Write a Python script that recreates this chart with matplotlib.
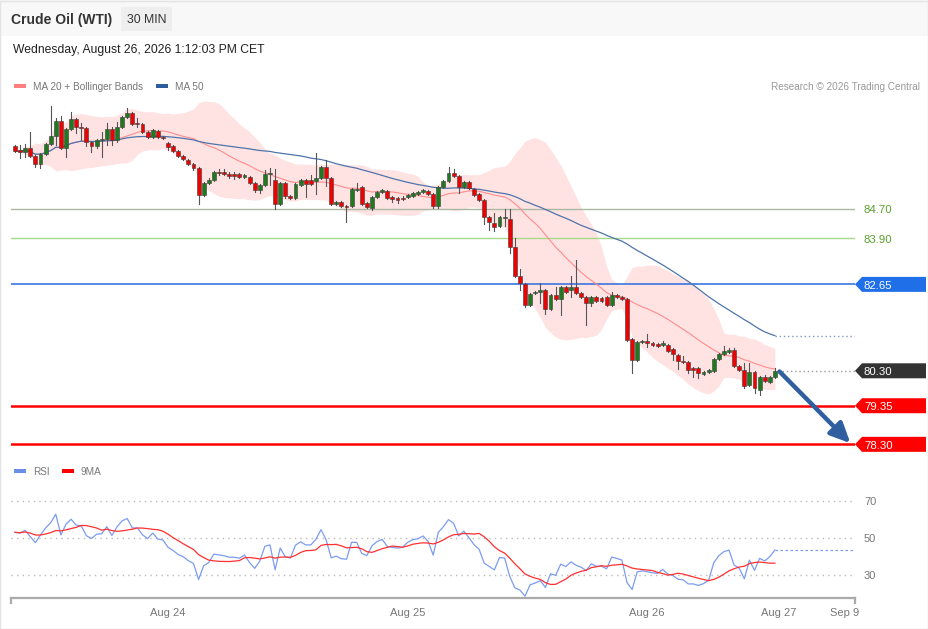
import matplotlib
matplotlib.use("Agg")
import matplotlib.pyplot as plt
import numpy as np
import pandas as pd
from matplotlib.patches import Rectangle, Polygon
from matplotlib import transforms

plt.rcParams['font.family'] = ['Liberation Sans', 'DejaVu Sans']

# ---------------- data: 30 min candles, Crude Oil (WTI) ----------------
opens = [86.41, 86.31, 86.25, 86.36, 86.14, 85.92, 86.20, 86.47, 86.69, 87.09,
         86.36, 86.88, 87.15, 86.93, 86.90, 86.52, 86.41, 86.58, 86.60, 86.88,
         86.58, 86.93, 87.20, 87.31, 87.04, 87.01, 86.79, 86.66, 86.82, 86.66,
         86.50, 86.41, 86.28, 86.14, 86.03, 85.92, 85.82, 85.08, 85.41, 85.49,
         85.71, 85.71, 85.65, 85.65, 85.65, 85.57, 85.57, 85.41, 85.22, 85.35,
         85.65, 85.49, 84.84, 85.41, 85.05, 85.00, 85.35, 85.49, 85.49, 85.46,
         85.54, 85.84, 85.54, 84.84, 84.89, 84.78, 84.78, 85.22, 85.30, 84.86,
         84.73, 85.03, 85.16, 85.19, 85.03, 85.00, 85.00, 85.03, 85.05, 85.11,
         85.16, 85.19, 85.11, 84.78, 85.30, 85.46, 85.68, 85.60, 85.30, 85.43,
         85.24, 85.11, 84.95, 84.48, 84.32, 84.24, 84.46, 84.43, 83.67, 82.88,
         82.66, 82.09, 82.41, 82.44, 82.50, 81.98, 82.36, 82.25, 82.58, 82.50,
         82.58, 82.41, 82.31, 82.14, 82.31, 82.28, 82.31, 82.09, 82.36, 82.31,
         82.25, 81.16, 80.59, 81.08, 81.11, 81.06, 81.03, 81.00, 81.00, 80.89,
         80.73, 80.57, 80.54, 80.38, 80.38, 80.21, 80.27, 80.30, 80.62, 80.76,
         80.81, 80.87, 80.43, 80.32, 79.91, 80.27, 79.78, 80.13, 80.00, 80.13]
highs = [86.44, 86.44, 86.47, 86.79, 86.17, 86.22, 86.50, 87.50, 87.18, 87.23,
         86.90, 87.34, 87.18, 87.04, 86.93, 86.55, 86.60, 86.79, 87.04, 86.93,
         87.07, 87.23, 87.45, 87.34, 87.18, 87.04, 86.82, 86.88, 86.85, 86.69,
         86.52, 86.44, 86.31, 86.17, 86.06, 85.95, 85.84, 85.43, 85.54, 85.73,
         85.79, 85.79, 85.71, 85.71, 85.68, 85.65, 85.60, 85.43, 85.38, 85.76,
         85.82, 85.79, 85.43, 85.43, 85.08, 85.41, 85.52, 85.52, 85.63, 86.22,
         85.87, 86.03, 85.57, 84.92, 84.92, 84.81, 85.27, 85.41, 85.33, 84.89,
         85.05, 85.19, 85.24, 85.22, 85.05, 85.03, 85.05, 85.11, 85.16, 85.19,
         85.24, 85.22, 85.14, 85.33, 85.49, 85.84, 85.79, 85.63, 85.46, 85.46,
         85.27, 85.14, 84.97, 84.51, 84.59, 84.51, 84.70, 84.70, 83.91, 83.07,
         82.69, 82.41, 82.47, 82.69, 82.52, 82.39, 82.58, 82.61, 82.61, 82.88,
         83.31, 82.44, 82.33, 82.33, 82.33, 82.31, 82.33, 82.44, 82.39, 82.33,
         82.28, 81.19, 81.11, 81.14, 81.30, 81.08, 81.06, 81.11, 81.03, 80.92,
         80.76, 80.70, 80.57, 80.40, 80.40, 80.30, 80.35, 80.65, 80.78, 80.97,
         80.92, 80.92, 80.46, 80.51, 80.51, 80.30, 80.16, 80.19, 80.16, 80.38]
lows = [86.25, 86.09, 86.11, 86.11, 85.84, 85.82, 86.17, 86.44, 86.44, 86.33,
        86.11, 86.85, 86.77, 86.58, 86.41, 86.25, 86.36, 86.11, 86.44, 86.44,
        86.52, 86.90, 87.18, 86.99, 86.93, 86.77, 86.63, 86.63, 86.63, 86.60,
        86.31, 86.25, 86.11, 86.03, 85.90, 85.76, 84.84, 85.05, 85.38, 85.46,
        85.63, 85.63, 85.54, 85.52, 85.54, 85.54, 85.38, 85.16, 85.14, 85.33,
        85.35, 84.70, 84.81, 85.00, 84.97, 84.97, 85.33, 85.03, 85.35, 85.11,
        85.52, 85.33, 84.81, 84.81, 84.76, 84.35, 84.76, 85.19, 84.81, 84.73,
        84.67, 85.00, 85.14, 84.97, 84.89, 84.86, 84.95, 85.00, 85.03, 85.08,
        85.14, 85.08, 84.73, 84.73, 85.27, 85.43, 85.57, 85.14, 85.27, 85.24,
        85.05, 84.92, 84.29, 84.13, 84.10, 84.21, 84.24, 83.50, 82.85, 82.50,
        82.04, 82.06, 82.39, 82.14, 81.84, 81.95, 82.23, 81.82, 82.41, 82.31,
        82.39, 82.28, 81.54, 82.06, 82.17, 82.17, 82.06, 82.06, 82.28, 82.23,
        81.11, 80.24, 80.57, 81.06, 80.95, 80.97, 80.95, 80.97, 80.81, 80.59,
        80.35, 80.51, 80.24, 80.13, 80.11, 80.19, 80.24, 80.27, 80.59, 80.73,
        80.78, 80.40, 80.30, 79.83, 79.88, 79.69, 79.64, 80.00, 79.97, 80.11]
closes = [86.28, 86.25, 86.36, 86.14, 85.92, 86.20, 86.47, 86.69, 87.09, 86.36,
          86.88, 87.15, 86.93, 86.90, 86.52, 86.41, 86.58, 86.60, 86.88, 86.58,
          86.93, 87.20, 87.31, 87.01, 87.01, 86.79, 86.66, 86.85, 86.66, 86.63,
          86.39, 86.28, 86.14, 86.06, 85.92, 85.82, 85.08, 85.41, 85.49, 85.71,
          85.68, 85.65, 85.60, 85.60, 85.57, 85.63, 85.41, 85.22, 85.35, 85.65,
          85.68, 84.84, 85.41, 85.05, 85.00, 85.38, 85.49, 85.38, 85.38, 85.54,
          85.84, 85.54, 84.84, 84.89, 84.78, 84.76, 85.24, 85.24, 84.84, 84.76,
          85.03, 85.16, 85.22, 85.00, 84.97, 84.95, 84.97, 85.08, 85.14, 85.16,
          85.22, 85.11, 84.78, 85.30, 85.46, 85.68, 85.60, 85.30, 85.43, 85.27,
          85.08, 84.95, 84.48, 84.35, 84.21, 84.48, 84.46, 83.67, 82.88, 82.69,
          82.09, 82.39, 82.44, 82.50, 81.98, 82.36, 82.25, 82.58, 82.44, 82.58,
          82.41, 82.31, 82.14, 82.31, 82.20, 82.20, 82.09, 82.36, 82.31, 82.25,
          81.14, 80.59, 81.08, 81.11, 81.06, 81.00, 80.97, 81.06, 80.84, 80.76,
          80.57, 80.54, 80.32, 80.32, 80.24, 80.27, 80.32, 80.62, 80.76, 80.84,
          80.87, 80.43, 80.32, 79.88, 80.27, 79.83, 80.13, 80.02, 80.13, 80.30]

# resistance / pivot / support levels
res_levels = [84.70, 83.90]
pivot = 82.65
last_price = 80.30
sup_levels = [79.35, 78.30]

tick_pos = [30, 76.9, 123.9, 149.8, 162.7]
tick_labels = ["Aug 24", "Aug 25", "Aug 26", "Aug 27", "Sep 9"]
rsi_levels = [70, 50, 30]

# ---------------- indicators ----------------
c = pd.Series(closes)
ma20 = c.rolling(20, min_periods=1).mean()
sd20 = c.rolling(20, min_periods=2).std(ddof=0).fillna(0)
ma50 = c.rolling(50, min_periods=1).mean()
up_band = ma20 + 2 * sd20
lo_band = ma20 - 2 * sd20

# Wilder RSI(14), seeded with the average of the first 14 moves
d = c.diff().fillna(0)
g = d.clip(lower=0)
l = -d.clip(upper=0)
g.iloc[0] = g.iloc[1:15].mean()
l.iloc[0] = l.iloc[1:15].mean()
gain = g.ewm(alpha=1 / 14, adjust=False).mean()
loss = l.ewm(alpha=1 / 14, adjust=False).mean()
rsi = 100 - 100 / (1 + gain / loss)
rsi9 = rsi.rolling(9, min_periods=1).mean()

n = len(closes)
x = np.arange(n)

# ---------------- figure ----------------
W, H = 929, 629
fig = plt.figure(figsize=(W / 100, H / 100), dpi=100)
fig.patch.set_facecolor("white")


def px(xp, yp):
    return xp / W, 1 - yp / H


# frame + header band
fig.patches.append(Rectangle((0, 1 - 36 / H), 1, 36 / H, transform=fig.transFigure,
                             facecolor="#f8f8f8", edgecolor="none", zorder=0))
fig.patches.append(Rectangle((0.5 / W, 0.5 / H), 1 - 1 / W, 1 - 1 / H, transform=fig.transFigure,
                             facecolor="none", edgecolor="#e3e3e3", lw=1, zorder=5))
fig.patches.append(Rectangle(px(121, 31), 51 / W, 24 / H, transform=fig.transFigure,
                             facecolor="#eeeeee", edgecolor="none", zorder=1))
fig.text(*px(11, 20), "Crude Oil (WTI)", fontsize=10, fontweight="bold", color="#333333", va="center")
fig.text(*px(146.5, 20), "30 MIN", fontsize=8.8, color="#333333", va="center", ha="center")
fig.text(*px(13, 49.5), "Wednesday, August 26, 2026 1:12:03 PM CET", fontsize=8.7, color="#222222", va="center")

# legends
fig.patches.append(Rectangle(px(14, 88), 12 / W, 4 / H, transform=fig.transFigure, facecolor="#ff7f7f", edgecolor="none"))
fig.text(*px(33, 87), "MA 20 + Bollinger Bands", fontsize=7.2, color="#777777", va="center")
fig.patches.append(Rectangle(px(156, 88), 12 / W, 4 / H, transform=fig.transFigure, facecolor="#2e5d9e", edgecolor="none"))
fig.text(*px(175, 87), "MA 50", fontsize=7.2, color="#777777", va="center")
fig.text(*px(920, 87), "Research \u00a9 2026 Trading Central", fontsize=7.2, color="#999999", va="center", ha="right")

fig.patches.append(Rectangle(px(14, 473), 12 / W, 4 / H, transform=fig.transFigure, facecolor="#6a8fe8", edgecolor="none"))
fig.text(*px(33, 472), "RSI", fontsize=7.2, color="#777777", va="center")
fig.patches.append(Rectangle(px(62, 473), 12 / W, 4 / H, transform=fig.transFigure, facecolor="#ff0000", edgecolor="none"))
fig.text(*px(81, 472), "9MA", fontsize=7.2, color="#777777", va="center")

# ---------------- price panel ----------------
ax = fig.add_axes([11 / W, 1 - 455 / H, 844 / W, 360 / H])
xl = (-0.78, 164.7)
ax.set_xlim(*xl)
ax.set_ylim(78.01, 87.80)
ax.axis("off")

ax.fill_between(x, lo_band, up_band, color="#ffe3e3", lw=0, zorder=1)
ax.plot(x, ma20, color="#ff8c8c", lw=0.8, zorder=2)
ax.plot(x, ma50, color="#4f74ab", lw=0.9, zorder=2)
ax.plot([n - 1, xl[1]], [ma50.iloc[-1]] * 2, color="#7d9cc8", lw=1, ls=(0, (1, 2)), zorder=2)

ax.axhline(res_levels[0], color="#aab8a2", lw=1, zorder=1.5)
ax.axhline(res_levels[1], color="#a6d98a", lw=1, zorder=1.5)
ax.axhline(pivot, color="#2a6be0", lw=1.1, zorder=1.5)
for lv in sup_levels:
    ax.axhline(lv, color="#ff0000", lw=1.8, zorder=1.5)
ax.plot([n - 1 + 0.6, xl[1]], [last_price] * 2, color="#999999", lw=1, ls=(0, (1, 2)), zorder=2)

for i in range(n):
    o, h, lo, cl = opens[i], highs[i], lows[i], closes[i]
    up = cl >= o
    ax.plot([i, i], [lo, h], color="#555555", lw=0.8, zorder=3)
    lo_b = min(o, cl)
    hb = max(abs(cl - o), 0.025)
    ax.add_patch(Rectangle((i - 0.38, lo_b), 0.76, hb, facecolor="#1f7a1f" if up else "#f00000",
                           edgecolor="#3a3a3a", lw=0.4, zorder=4))

ax.annotate("", xy=(163.8, 78.33), xytext=(149.9, 80.28),
            arrowprops=dict(arrowstyle="-|>,head_length=0.75,head_width=0.35", color="#2f5f9f",
                            lw=3.2, mutation_scale=16, shrinkA=0, shrinkB=0), zorder=6)

# right-hand labels
bt = transforms.blended_transform_factory(fig.transFigure, ax.transData)
hh = 7.5 / 36.8
dy = -1.2 / 36.8


def tag(val, face):
    pts = [(855 / W, val), (862 / W, val + hh), (926 / W, val + hh), (926 / W, val - hh), (862 / W, val - hh)]
    fig.patches.append(Polygon(pts, closed=True, transform=bt, facecolor=face, edgecolor="none", zorder=5))
    fig.text(864 / W, val + dy, "%.2f" % val, transform=bt, fontsize=8.2, color="white", va="center", zorder=6)


for lv in res_levels:
    fig.text(864 / W, lv + dy, "%.2f" % lv, transform=bt, fontsize=8.2, color="#5aa02c", va="center")
tag(pivot, "#1f6fe8")
tag(last_price, "#333333")
for lv in sup_levels:
    tag(lv, "#ff0000")

# ---------------- RSI panel ----------------
rax = fig.add_axes([11 / W, 1 - 598 / H, 844 / W, 118 / H])
rax.set_xlim(*xl)
rax.set_ylim(17.57, 81.35)
for s in ["top", "right", "left"]:
    rax.spines[s].set_visible(False)
rax.spines["bottom"].set_color("#aaaaaa")
rax.spines["bottom"].set_linewidth(1.6)
rax.set_yticks([])
rax.set_xticks(tick_pos)
rax.set_xticklabels(tick_labels, fontsize=8, color="#777777")
rax.tick_params(axis="x", length=0, pad=7.5)
for xe in xl:
    rax.plot([xe, xe], [17.57, 14.9], color="#aaaaaa", lw=1.6, clip_on=False)

for lv in rsi_levels:
    rax.axhline(lv, color="#bbbbbb", lw=1, ls=(0, (1, 3)))
    fig.text(864 / W, 1 - (599.2 - (lv - 17.57) * 118 / 63.78) / H, str(lv), fontsize=8, color="#777777", va="center")

rax.plot(x, rsi, color="#7b9cf0", lw=0.9, zorder=3)
rax.plot(x, rsi9, color="#ff3030", lw=0.9, zorder=3)
rax.plot([n - 1, xl[1]], [rsi.iloc[-1]] * 2, color="#7b9cf0", lw=0.9, ls=(0, (2, 2)), zorder=3)

fig.savefig("out.png", dpi=100)
